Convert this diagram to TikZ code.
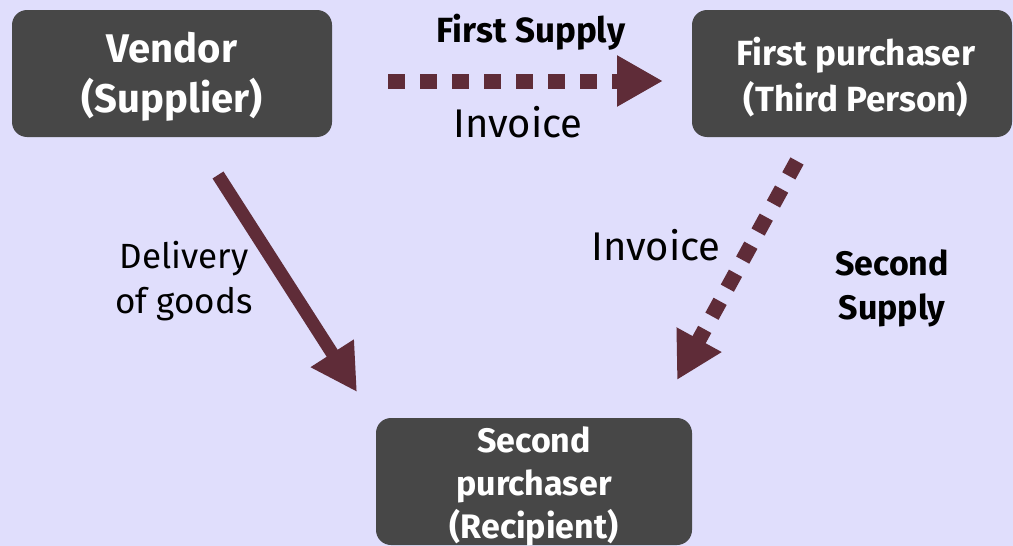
\documentclass[tikz,border=0pt]{standalone}
\usepackage{fontspec}
\setmainfont{Fira Sans}
\usetikzlibrary{arrows.meta}
\definecolor{bgcol}{RGB}{224,222,252}
\definecolor{boxcol}{RGB}{71,71,71}
\definecolor{arrowcol}{RGB}{95,44,56}
\tikzset{
  party/.style={draw=none, fill=boxcol, rounded corners=15pt, inner sep=0pt},
  partytext/.style={text=white, align=center, inner sep=0pt},
  lbl/.style={text=black, align=center, inner sep=0pt},
  flow/.style={draw=arrowcol, line width=13pt,
    -{Triangle[length=46pt,width=48pt]}, arrowcol},
  billflow/.style={draw=arrowcol, line width=15pt, dash pattern=on 17pt off 15pt,
    -{Triangle[length=46pt,width=48pt]}, arrowcol},
}
\begin{document}
\begin{tikzpicture}[x=1pt, y=-1pt]
  % canvas
  \fill[bgcol] (0,0) rectangle (1013,546);
  \useasboundingbox (0,0) rectangle (1013,546);

  % parties
  \node[party, minimum width=320pt, minimum height=127pt] (vendor) at (172,73.5) {};
  \node[partytext, font=\fontsize{40}{50}\selectfont\bfseries] (vendortext) at (172,77)
        {Vendor\\(Supplier)};
  \node[party, minimum width=320pt, minimum height=127pt] (first) at (852,73.5) {};
  \node[partytext, font=\fontsize{35}{46}\selectfont\bfseries] (firsttext) at (856,77.5)
        {First purchaser\\(Third Person)};
  \node[party, minimum width=316pt, minimum height=127pt] (second) at (534,481.5) {};
  \node[partytext, font=\fontsize{34}{43}\selectfont\bfseries] (secondtext) at (534,486)
        {Second\\purchaser\\(Recipient)};

  % connector ends
  \coordinate (s1) at (388,81);
  \coordinate (t1) at (663,81);
  \coordinate (s2) at (797,161);
  \coordinate (t2) at (677,380);
  \coordinate (s3) at (218,175);
  \coordinate (t3) at (357,392);

  \draw[billflow] (s1) -- (t1);
  \draw[billflow] (s2) -- (t2);
  \draw[flow] (s3) -- (t3);

  % labels
  \node[lbl, anchor=base, font=\fontsize{35}{40}\selectfont\bfseries] (fs) at (531,42) {First Supply};
  \node[lbl, anchor=base, font=\fontsize{40}{46}\selectfont] (inv1) at (518,137) {Invoice};
  \node[lbl, anchor=base, font=\fontsize{40}{46}\selectfont] (inv2) at (656,260) {Invoice};
  \node[lbl, font=\fontsize{34}{44}\selectfont\bfseries] (ss) at (892,288.5) {Second\\Supply};
  \node[lbl, font=\fontsize{35}{45}\selectfont] (dg) at (184,281) {Delivery\\of goods};
\end{tikzpicture}
\end{document}
